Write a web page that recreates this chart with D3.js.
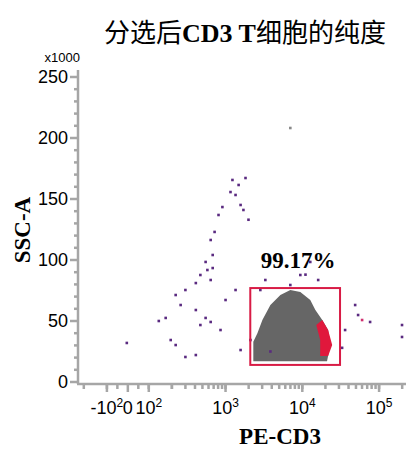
<!DOCTYPE html><html><head><meta charset="utf-8"><script src="https://cdn.jsdelivr.net/npm/d3@7"></script>
<style>body{margin:0;background:#fff}</style></head><body><svg id="c" width="410" height="450"></svg>
<script>
const yTicks=[0,50,100,150,200,250];
const xTickVals=[-100,0,100,1000,10000,100000];
const xTickLabels=[["-10","2"],["0",""],["10","2"],["10","3"],["10","4"],["10","5"]];
const gateRange={x:[2100,31000],y:[14,77]};
const gatePct="99.17%";
const blobX=[2300,2300,2600,3020,3840,5180,6980,9420,12700,14800,18200,21700,23100,21000];
const blobY=[17,33,40,50.8,63.1,71.3,75.4,73.8,67.2,59,50.8,42.6,30.3,17];
const redX=[17100,15200,18200,21700,24500,21700,17100];
const redY=[34.4,46.7,50.8,42.6,30.3,21.3,21.3];
const dotX=[1230,1480,1350,1570,1710,1820,1160,910,810,720,640,680,550,680,580,470,640,410,300,224,260,410,550,640,470,166,135,193,224,410,300,2110,1570,12700,16100,6980,9420,48800,60100,36100,53300,76400,199000,199000,6980,860,-5,1990,1000,1350,2840,3300,3840,11000,33000];
const dotY=[165.6,161.5,153.3,145.1,141,167.2,155.7,143.4,136.9,123,116.4,104.1,98.4,93.4,91.8,87.7,83.6,81.1,75.4,71.3,63.1,59,52.5,49.2,46.7,52.5,50,34.4,30.3,22.1,20.5,34.4,26.2,98.4,83.6,79.5,87.7,63.1,50.8,42.6,54.9,49.2,46.7,36.9,208.2,42.6,32,133,67.2,75.4,75.4,83.6,25,88,28];
const dotC=dotX.map((d,i)=>i===44?"#888":(i===38?"#d03070":"#5a2a80"));

const svg=d3.select("#c");
const C=0.2727;
const tf=v=>Math.abs(v)<100?v/100*C:Math.sign(v)*(Math.log10(Math.abs(v))-2+C);
const xl=d3.scaleLinear().domain([tf(0)-50/77,tf(0)+278/77]).range([78,405]);
const x=v=>xl(tf(v));
const y=d3.scaleLinear().domain([0,250]).range([382,77]);
const grey="#a6a6a6";
const ya=svg.append("g").attr("transform","translate(78,0)");
ya.append("line").attr("y1",70).attr("y2",384).attr("stroke",grey).attr("stroke-width",2.5);
d3.range(0,260,10).forEach(v=>{const maj=v%50===0;ya.append("line").attr("x1",maj?-8:-4).attr("x2",0).attr("y1",y(v)).attr("y2",y(v)).attr("stroke",grey).attr("stroke-width",2.5);});
yTicks.forEach(v=>ya.append("text").attr("x",-10).attr("y",y(v)+6).attr("text-anchor","end").attr("font-family","Liberation Sans, Arial").attr("font-size",18).text(v));
svg.append("text").attr("x",80).attr("y",62).attr("text-anchor","end").attr("font-family","Liberation Sans").attr("font-size",13).text("x1000");
const xa=svg.append("g");
xa.append("line").attr("x1",77).attr("x2",406).attr("y1",384).attr("y2",384).attr("stroke",grey).attr("stroke-width",2.5);
const minors=[];[-1,1].forEach(s=>{[100,1000,10000,100000].forEach(d=>{for(let k=1;k<10;k++){const v=s*d*k;if(s<0&&d>100)continue;minors.push(v);}});});
minors.push(-50,50,200);
minors.forEach(v=>{const px=x(v);if(px<80||px>405)return;xa.append("line").attr("x1",px).attr("x2",px).attr("y1",384).attr("y2",389).attr("stroke",grey).attr("stroke-width",2.5);});
xTickVals.forEach((v,i)=>{const px=x(v);xa.append("line").attr("x1",px).attr("x2",px).attr("y1",384).attr("y2",392).attr("stroke",grey).attr("stroke-width",2.5);
 const t=xa.append("text").attr("x",px).attr("y",414).attr("text-anchor","middle").attr("font-family","Liberation Sans, Arial").attr("font-size",18);
 t.append("tspan").text(xTickLabels[i][0]);if(xTickLabels[i][1])t.append("tspan").attr("dy",-7).attr("font-size",12).text(xTickLabels[i][1]);});
const line=d3.line().x(d=>x(d[0])).y(d=>y(d[1])).curve(d3.curveLinearClosed);
svg.append("path").attr("d",line(blobX.map((v,i)=>[v,blobY[i]]))).attr("fill","#666");
svg.append("path").attr("d",line(redX.map((v,i)=>[v,redY[i]]))).attr("fill","#e0183c");
svg.selectAll(".d").data(dotX).enter().append("rect").attr("x",d=>x(d)-1.3).attr("y",(d,i)=>y(dotY[i])-1.3).attr("width",2.6).attr("height",2.6).attr("fill",(d,i)=>dotC[i]);
svg.append("rect").attr("x",x(gateRange.x[0])).attr("y",y(gateRange.y[1])).attr("width",x(gateRange.x[1])-x(gateRange.x[0])).attr("height",y(gateRange.y[0])-y(gateRange.y[1])).attr("fill","none").attr("stroke","#d81b45").attr("stroke-width",2);
svg.append("text").attr("x",298).attr("y",268).attr("text-anchor","middle").attr("font-family","Liberation Serif").attr("font-weight","bold").attr("font-size",23).text(gatePct);
const tt=svg.append("text").attr("x",245).attr("y",42).attr("text-anchor","middle").attr("font-size",26);
tt.append("tspan").attr("font-family","Noto Sans CJK SC").text("分选后");
tt.append("tspan").attr("font-family","Liberation Serif").attr("font-weight","bold").text("CD3 T");
tt.append("tspan").attr("font-family","Noto Sans CJK SC").text("细胞的纯度");
svg.append("text").attr("transform","translate(30,230) rotate(-90)").attr("text-anchor","middle").attr("font-family","Liberation Serif").attr("font-weight","bold").attr("font-size",23).text("SSC-A");
svg.append("text").attr("x",280).attr("y",444).attr("text-anchor","middle").attr("font-family","Liberation Serif").attr("font-weight","bold").attr("font-size",23).text("PE-CD3");
</script></body></html>
